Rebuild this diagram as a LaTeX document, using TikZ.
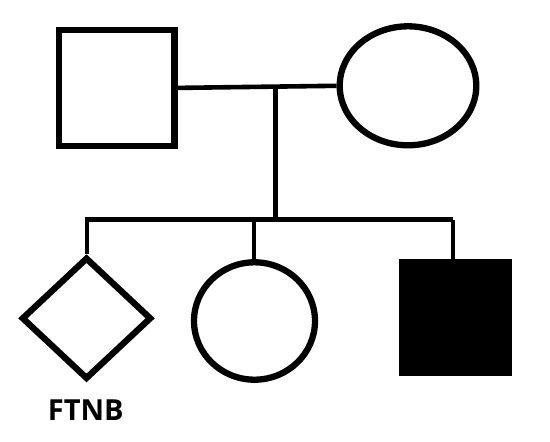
\documentclass[tikz,border=0pt]{standalone}
\usepackage{fontspec}
\setmainfont{Open Sans}
\usetikzlibrary{shapes.geometric}
\begin{document}
\begin{tikzpicture}[x=1pt,y=-1pt,
  person/.style={draw=black,line width=6.3pt,inner sep=0pt,fill=white},
  conn/.style={draw=black,line width=4.6pt},
  drop/.style={draw=black,line width=4pt}]
\useasboundingbox[fill=white] (0,0) rectangle (550,442);
\node[person,rectangle,minimum width=115.3pt,minimum height=115.7pt] (father) at (116.7,87.9) {};
\node[person,ellipse,minimum width=136.6pt,minimum height=119pt] (mother) at (408,85.8) {};
\node[person,diamond,minimum width=130pt,minimum height=122pt] (child1) at (86.5,318.3) {};
\node[person,ellipse,minimum width=121pt,minimum height=117.4pt] (child2) at (254.5,321) {};
\node[person,rectangle,fill=black,line width=0.5pt,minimum width=112.2pt,minimum height=115.9pt] (child3) at (455.3,317.5) {};
\node[font=\bfseries\fontsize{29}{30}\selectfont,inner sep=0pt] (label) at (85.8,409.7) {FTNB};
\coordinate (mid) at (275.5,87.3);
\coordinate (sib) at (275.5,219.7);
\coordinate (sibL) at (85,219.7);
\coordinate (sibR) at (453.3,219.7);
\draw[conn] (father.east) -- (mother.west);
\draw[conn] (mid) -- (sib);
\draw[conn] (sibL) -- (sibR);
\draw[drop] ([xshift=0.7pt]child1.north |- sib) -- ([xshift=0.7pt]child1.north);
\draw[drop] ([xshift=-0.8pt]child2.north |- sib) -- ([xshift=-0.8pt]child2.north);
\draw[drop] ([xshift=-2.6pt]child3.north |- sib) -- ([xshift=-2.6pt]child3.north);
\end{tikzpicture}
\end{document}
